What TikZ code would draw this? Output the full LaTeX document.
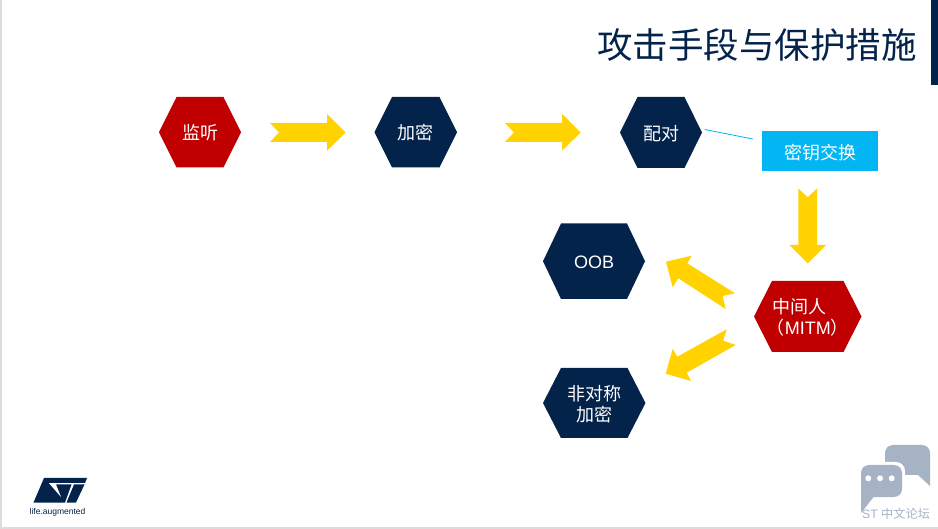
\documentclass[tikz,border=0pt]{standalone}
\usepackage{fontspec}
\setmainfont{Liberation Sans}
\newfontfamily\cjk{Noto Sans CJK SC}
\usetikzlibrary{calc}
\definecolor{stnavy}{HTML}{03234B}
\definecolor{stred}{HTML}{C00000}
\definecolor{styellow}{HTML}{FFD200}
\definecolor{stcyan}{HTML}{03B5F3}
\definecolor{stgrey}{HTML}{A6B3C4}
\definecolor{edgegrey}{HTML}{DCDCDC}
\tikzset{
  hextext/.style={text=white,font=\fontsize{18}{21}\selectfont\cjk,align=center,inner sep=0pt},
  blockarrow/.style={fill=styellow,draw=none},
  bubble/.style={fill=stgrey,draw=none},
}
\newcommand{\hexnode}[8]{%
  \fill[#7] (#2,{(#4+#5)/2}) -- (#2+#6,#4) -- (#3-#6,#4) -- (#3,{(#4+#5)/2}) -- (#3-#6,#5) -- (#2+#6,#5) -- cycle;
  \node[hextext,minimum width={(#3-#2)*1pt},minimum height={(#5-#4)*1pt}] (#1) at ({(#2+#3)/2},{(#4+#5)/2+0.7}) {#8};
}
\begin{document}
\begin{tikzpicture}[x=1pt,y=-1pt]
\useasboundingbox (0,0) rectangle (938,529);
\fill[white] (0,0) rectangle (938,529);
\fill[edgegrey] (0,0) rectangle (2,529);
\fill[edgegrey] (0,527) rectangle (938,529);
\fill[stnavy] (931,0) rectangle (938,85);
\node[text=stnavy,font=\fontsize{35.5}{40}\selectfont\cjk,anchor=east,inner sep=0pt] (title) at (917,45) {攻击手段与保护措施};

\hexnode{listen}{159}{241}{97}{167.5}{17.5}{stred}{监听}
\hexnode{encrypt}{374.5}{457}{97}{167.5}{17.5}{stnavy}{加密}
\hexnode{pair}{620}{702}{97}{168}{17.5}{stnavy}{配对}
\hexnode{oob}{543}{645}{223.5}{299}{18}{stnavy}{\fontsize{18}{21}\selectfont\rmfamily OOB}
\hexnode{asym}{543}{645.5}{368}{438}{18}{stnavy}{非对称\\加密}
\hexnode{mitm}{754}{861.5}{281}{352}{18}{stred}{中间人\hspace*{16pt}\\（{\rmfamily MITM}）}

\node[fill=stcyan,hextext,minimum width=116pt,minimum height=40pt,text depth=0pt] (keybox) at (820,151) {\raisebox{-1pt}{密钥交换}};
\draw[stcyan,line width=0.8pt] ($(pair.east)+(2.5,-3.7)$) -- ($(keybox.west)+(-9,-12)$);

% block arrows
\fill[blockarrow] (270,123) -- (327,123) -- (327,114) -- (345.7,132.5) -- (327,150.7) -- (327,142) -- (270,142) -- (279,132.5) -- cycle;
\fill[blockarrow] (505,123) -- (562,123) -- (562,114) -- (580.7,132.5) -- (562,150.7) -- (562,142) -- (505,142) -- (514,132.5) -- cycle;
\fill[blockarrow] (798.3,188.5) -- (807.7,197.3) -- (817,188.5) -- (817,245) -- (826,245) -- (807.7,263.3) -- (789.3,245) -- (798.3,245) -- cycle;
\fill[blockarrow] (735,293.3) -- (722.7,296) -- (725.7,309) -- (678.3,278.3) -- (672.7,287.3) -- (666,261.7) -- (691.7,255.7) -- (687.3,263.3) -- cycle;
\fill[blockarrow] (726.7,329.3) -- (723.3,340.7) -- (735.7,345) -- (686.7,372.7) -- (691,381) -- (665.7,373.7) -- (672.7,349) -- (677.3,356.7) -- cycle;

% ST logo
\fill[stnavy] (44,478) -- (87,478) -- (85,483) -- (71,483) -- (71.5,484.5) -- (65,502.5) -- (33.5,502.5) -- cycle;
\fill[white] (49,483.2) -- (72,483.2) -- (72,484.4) -- (56,484.4) -- (61,497) -- cycle;
\fill[stnavy] (74,484.5) -- (84.5,484.5) -- (76,502.5) -- (66.5,502.5) -- cycle;
\node[text=stnavy,font=\fontsize{8.5}{9}\selectfont,anchor=west,inner sep=0pt] (tagline) at (29.5,512.5) {life.augmented};

% chat icon
\fill[bubble] (885,475) -- (885,453) arc (180:270:8) -- (922,445) arc (-90:0:8) -- (930,486) -- (918,475) -- cycle;
\fill[white,rounded corners=9pt] (858,462) rectangle (905,500);
\fill[bubble,rounded corners=8pt] (861,465) rectangle (902,497);
\fill[bubble] (861,485) -- (861,513) -- (874,496.5) -- cycle;
\foreach \dx in {868.3,880,891.7} \fill[white] (\dx,478.3) circle (3);
\node[text=stgrey,font=\fontsize{12.2}{14}\selectfont,anchor=west,inner sep=0pt] (forum) at (862,513.5) {ST {\cjk 中文论坛}};
\end{tikzpicture}
\end{document}
